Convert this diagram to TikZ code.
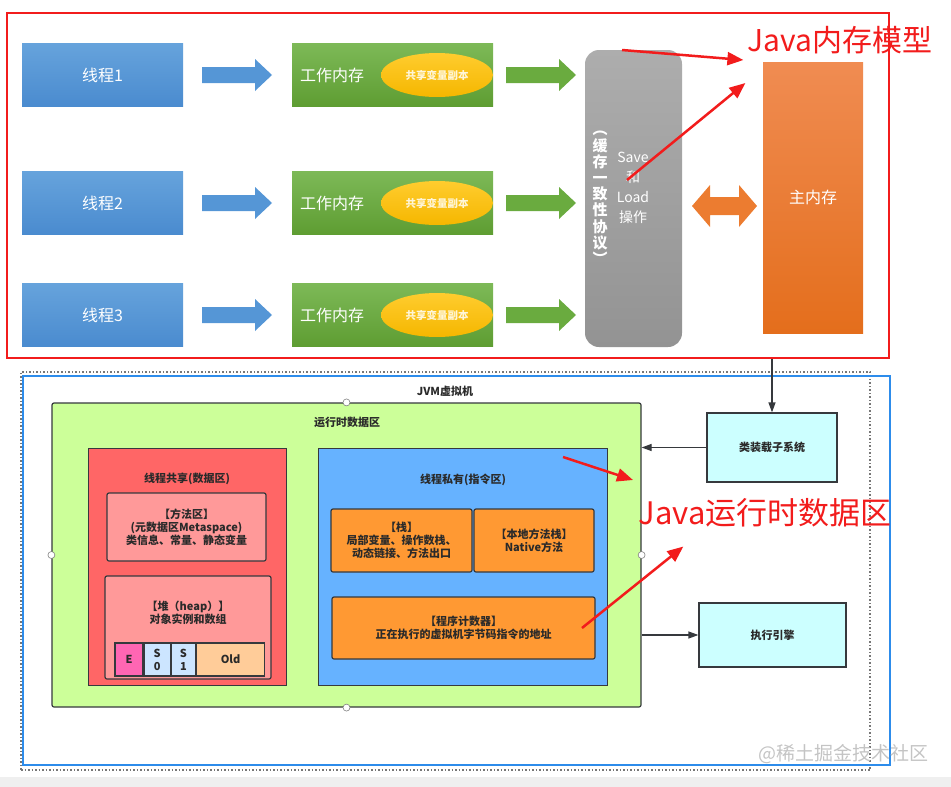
\documentclass[tikz,border=0pt]{standalone}
\usepackage{fontspec}
\setmainfont{Noto Sans CJK SC}
\usetikzlibrary{positioning,arrows.meta,shapes.geometric}
\definecolor{thtop}{HTML}{66A3DC}
\definecolor{thbot}{HTML}{4A8BCF}
\definecolor{wktop}{HTML}{7DB957}
\definecolor{wkbot}{HTML}{5E9D32}
\definecolor{shtop}{HTML}{FFCC2E}
\definecolor{shbot}{HTML}{F5B700}
\definecolor{shtext}{HTML}{FFF6D8}
\definecolor{gytop}{HTML}{ADADAD}
\definecolor{gybot}{HTML}{939393}
\definecolor{ortop}{HTML}{F08C52}
\definecolor{orbot}{HTML}{E46E1C}
\definecolor{arblue}{HTML}{5596D6}
\definecolor{argreen}{HTML}{6AAB3F}
\definecolor{arorange}{HTML}{EC7C30}
\definecolor{jred}{HTML}{F21C1C}
\definecolor{jblue}{HTML}{2D8CEB}
\definecolor{dotgray}{HTML}{777777}
\definecolor{bdark}{HTML}{36393D}
\definecolor{tdark}{HTML}{2A2A2A}
\definecolor{rtgreen}{HTML}{CCFF99}
\definecolor{shred}{HTML}{FF6666}
\definecolor{pink}{HTML}{FF9999}
\definecolor{eden}{HTML}{FF66B3}
\definecolor{surv}{HTML}{CCE5FF}
\definecolor{old}{HTML}{FFCC99}
\definecolor{prblue}{HTML}{66B2FF}
\definecolor{prorange}{HTML}{FF9933}
\definecolor{sub}{HTML}{CCFFFF}
\definecolor{wmgray}{HTML}{C4C4C4}
\definecolor{band}{HTML}{EFEFEF}
\tikzset{
    every node/.style={inner sep=0pt},
    thread/.style={minimum width=161pt, minimum height=63pt, top color=thtop, bottom color=thbot, text=white, font=\fontsize{16}{18}\selectfont},
    work/.style={minimum width=201pt, minimum height=63pt, top color=wktop, bottom color=wkbot},
    share/.style={ellipse, minimum width=112pt, minimum height=44pt, top color=shtop, bottom color=shbot, text=shtext, font=\fontsize{10.5}{12}\selectfont\bfseries},
    redline/.style={draw=jred, line width=2pt},
    pointer/.style={draw=jred, line width=2.5pt, -{Triangle[length=16pt,width=13pt]}},
    note/.style={text=jred, font=\fontsize{31}{34}\selectfont},
    area/.style={draw=bdark, line width=1.2pt, rounded corners=2pt},
    lbl/.style={text=tdark, font=\fontsize{11}{13}\selectfont\bfseries, align=center},
    link/.style={draw=bdark, line width=1.2pt, -{Triangle[length=10pt,width=7pt]}},
    handle/.style={circle, draw=gray, fill=white, minimum size=7pt, line width=0.6pt},
}
\begin{document}
\begin{tikzpicture}[x=1pt, y=-1pt]
    \useasboundingbox (0,0) rectangle (951,787);
    \fill[band] (0,777) rectangle (951,787);
    % Java memory model
    \node[redline, minimum width=882pt, minimum height=345pt] (jmm) at (448,185.5) {};
    \foreach \i/\y in {1/75, 2/203, 3/315}{
        \node[thread] (t\i) at (102.5,\y) {线程\i};
        \node[work] (w\i) at (392.5,\y) {};
        \node[text=white, font=\fontsize{16}{18}\selectfont, anchor=west] (wt\i) at ([xshift=8pt]w\i.west) {工作内存};
        \node[share] (s\i) at (437,\y) {共享变量副本};
        \fill[arblue] (202,\y-8) -- (255,\y-8) -- (255,\y-16) -- (272,\y) -- (255,\y+16) -- (255,\y+8) -- (202,\y+8) -- cycle;
        \fill[argreen] (506,\y-8) -- (559,\y-8) -- (559,\y-16) -- (576,\y) -- (559,\y+16) -- (559,\y+8) -- (506,\y+8) -- cycle;
    }
    \node[minimum width=97pt, minimum height=297pt, rounded corners=14pt, top color=gytop, bottom color=gybot] (cache) at (633.5,198.5) {};
    \node[text=white, font=\fontsize{15}{16.2}\selectfont\bfseries, align=center] (proto) at (600,198) {︵\\缓\\存\\一\\致\\性\\协\\议\\︶};
    \node[text=white, font=\fontsize{14}{20}\selectfont, align=center] (saveload) at (633,188) {Save\\和\\Load\\操作};
    \node[minimum width=100pt, minimum height=271pt, top color=ortop, bottom color=orbot, text=white, font=\fontsize{16}{18}\selectfont] (mm) at (813,197.5) {主内存};
    \fill[arorange] (692,206) -- (710,185) -- (710,197) -- (739,197) -- (739,185) -- (757,206) -- (739,227) -- (739,215) -- (710,215) -- (710,227) -- cycle;
    \node[note, font=\fontsize{30}{34}\selectfont] (jmmt) at (840,40) {Java内存模型};
    \coordinate (p1) at (622,50);
    \coordinate (p2) at (627,180);
    \draw[pointer] (p1) -- ([xshift=-4pt,yshift=-20pt]jmmt.west);
    \draw[pointer] (p2) -- ([xshift=-2pt,yshift=-43pt]jmmt.west);

    % JVM
    \node[draw=dotgray, dotted, line width=1.5pt, minimum width=849pt, minimum height=398pt] (jvmdot) at (445.5,571) {};
    \node[draw=jblue, line width=2pt, minimum width=867pt, minimum height=389pt] (jvm) at (456.5,570.5) {};
    \node[lbl] (jvmt) at (445,391) {JVM虚拟机};
    \node[area, fill=rtgreen, minimum width=589pt, minimum height=304pt] (rt) at (346.5,555) {};
    \node[lbl] (rtt) at (347,422) {运行时数据区};
    \foreach \a in {north, west, south, east}
        \node[handle] (h\a) at (rt.\a) {};

    \node[area, fill=shred, rounded corners=0pt, line width=1pt, minimum width=198pt, minimum height=237pt] (sh) at (187,566.5) {};
    \node[lbl] (sht) at (187,479) {线程共享(数据区)};
    \node[area, fill=pink, minimum width=159pt, minimum height=68pt, lbl] (meth) at (186.5,527) {【方法区】\\(元数据区Metaspace)\\类信息、常量、静态变量};
    \node[area, fill=pink, minimum width=166pt, minimum height=103pt] (heap) at (188,627.5) {};
    \node[lbl] (heapt) at (188,613) {【堆（heap）】\\对象实例和数组};
    \node[area, fill=eden, rounded corners=0pt, minimum width=28pt, minimum height=33pt, lbl] (E) at (129,659.5) {E};
    \node[area, fill=surv, rounded corners=0pt, minimum width=26pt, minimum height=33pt, lbl, right=0pt of E] (S0) {S\\0};
    \node[area, fill=surv, rounded corners=0pt, minimum width=24pt, minimum height=33pt, lbl, right=0pt of S0] (S1) {S\\1};
    \node[area, fill=old, rounded corners=0pt, minimum width=68pt, minimum height=33pt, lbl, right=0pt of S1] (Old) {Old};

    \node[area, fill=prblue, rounded corners=0pt, line width=1pt, minimum width=289pt, minimum height=237pt] (pr) at (462.5,566.5) {};
    \node[lbl] (prt) at (463,480) {线程私有(指令区)};
    \node[area, fill=prorange, minimum width=141pt, minimum height=63pt, lbl] (stack) at (401.5,540.5) {【栈】\\局部变量、操作数栈、\\动态链接、方法出口};
    \node[area, fill=prorange, minimum width=120pt, minimum height=63pt, lbl] (native) at (534,540.5) {【本地方法栈】\\Native方法};
    \node[area, fill=prorange, minimum width=263pt, minimum height=62pt, lbl] (pc) at (463.5,628) {【程序计数器】\\正在执行的虚拟机字节码指令的地址};

    \node[area, fill=sub, rounded corners=0pt, minimum width=130pt, minimum height=69pt, lbl] (cl) at (772,447.5) {类装载子系统};
    \node[area, fill=sub, rounded corners=0pt, minimum width=147pt, minimum height=64pt, lbl] (ee) at (772.5,635) {执行引擎};
    \draw[link] (cl.north |- jmm.south) -- (cl.north);
    \draw[link] (cl.west) -- (cl.west -| rt.east);
    \draw[link] (ee.west -| rt.east) -- (ee.west);

    \node[note] (rtnote) at (765,513) {Java运行时数据区};
    \coordinate (p3) at (563,457);
    \coordinate (p4) at (582,628);
    \draw[pointer] (p3) -- (633,480);
    \draw[pointer] (p4) -- ([xshift=45pt,yshift=-19pt]rtnote.south west);
    \node[text=wmgray, font=\fontsize{19}{20}\selectfont, anchor=east] (wm) at (929,754) {@稀土掘金技术社区};
\end{tikzpicture}
\end{document}
